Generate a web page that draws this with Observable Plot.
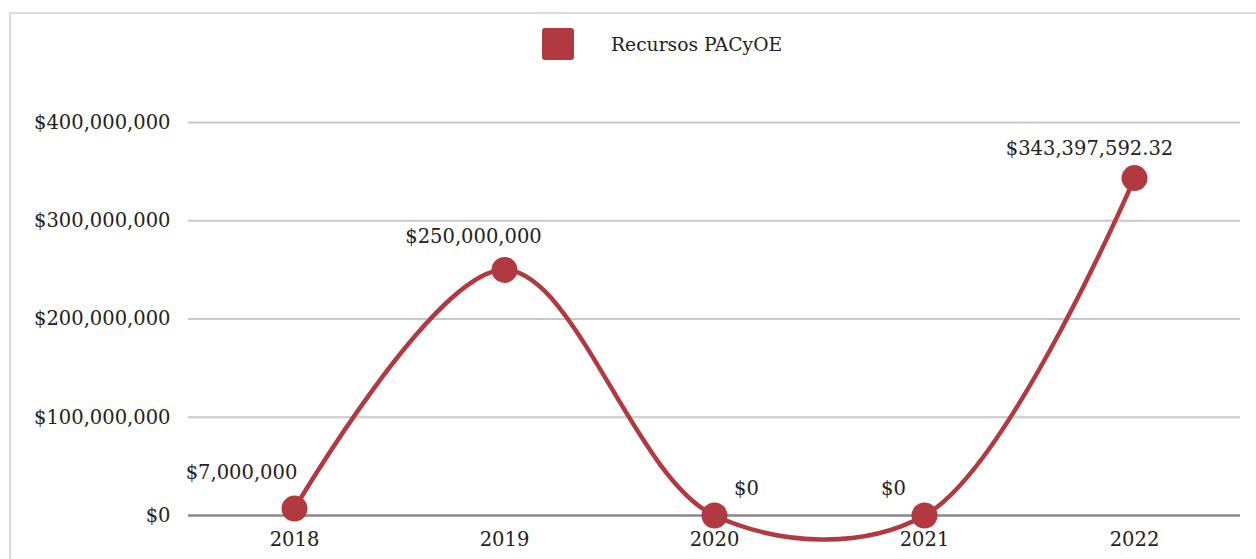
<!DOCTYPE html>
<html>
<head>
<meta charset="utf-8">
<script src="https://cdn.jsdelivr.net/npm/d3@7"></script>
<script src="https://cdn.jsdelivr.net/npm/@observablehq/plot@0.6"></script>
<style>
  html, body { margin: 0; padding: 0; background: #fff; width: 1256px; height: 559px; overflow: hidden; }
  #frame { position: absolute; left: 9px; top: 12px; width: 1300px; height: 700px; border: 2px solid #dcdcdc; box-sizing: border-box; }
  #chart { position: absolute; left: 0; top: 0; }
  #legend { position: absolute; left: 542px; top: 28px; display: flex; align-items: center; font-family: "DejaVu Serif", serif; font-size: 18.7px; color: #222; }
  #legend .sw { width: 32px; height: 32px; background: #b13a41; border-radius: 3px; margin-right: 37px; }
</style>
</head>
<body>
<div id="frame"></div>
<div id="chart"></div>
<div id="legend"><div class="sw"></div><span>Recursos PACyOE</span></div>
<script>
const years = ["2018", "2019", "2020", "2021", "2022"];
const values = [7000000, 250000000, 0, 0, 343397592.32];
const valueLabels = ["$7,000,000", "$250,000,000", "$0", "$0", "$343,397,592.32"];
const yTicks = [0, 100000000, 200000000, 300000000, 400000000];
const seriesName = "Recursos PACyOE";

const data = years.map((y, i) => ({year: y, value: values[i], label: valueLabels[i], i}));
const red = "#b13a41";
const font = "DejaVu Serif, serif";
const fs = 19.5;

const labelMark = (idx, dx, dy) => Plot.text(data.filter(d => idx.includes(d.i)), {
  x: "year", y: "value", text: "label", dx, dy, fontSize: fs, fill: "#222", fontFamily: font
});

const chart = Plot.plot({
  width: 1256,
  height: 559,
  marginLeft: 188,
  marginRight: 16,
  marginTop: 122,
  marginBottom: 44,
  style: {fontFamily: font, fontSize: fs + "px", color: "#222", background: "transparent"},
  x: {type: "point", domain: years, padding: 0.5, label: null},
  y: {domain: [0, 400000000], label: null},
  marks: [
    Plot.ruleY(yTicks.filter(t => t > 0), {stroke: "#c9c9c9", strokeWidth: 2}),
    Plot.ruleY([0], {stroke: "#888", strokeWidth: 2.5}),
    Plot.axisY({ticks: yTicks, tickSize: 0, tickPadding: 18, tickFormat: d => "$" + d3.format(",")(d), fontSize: fs, fill: "#222"}),
    Plot.axisX({tickSize: 0, tickPadding: 17, fontSize: fs, fill: "#222"}),
    Plot.line(data, {x: "year", y: "value", stroke: red, strokeWidth: 4.5, curve: "catmull-rom"}),
    Plot.dot(data, {x: "year", y: "value", r: 13, fill: red, stroke: "none"}),
    labelMark([0], -53, -36),
    labelMark([1], -31, -33),
    labelMark([2], 32, -27),
    labelMark([3], -31, -27),
    labelMark([4], -45, -29)
  ]
});
document.getElementById("chart").appendChild(chart);
</script>
</body>
</html>
